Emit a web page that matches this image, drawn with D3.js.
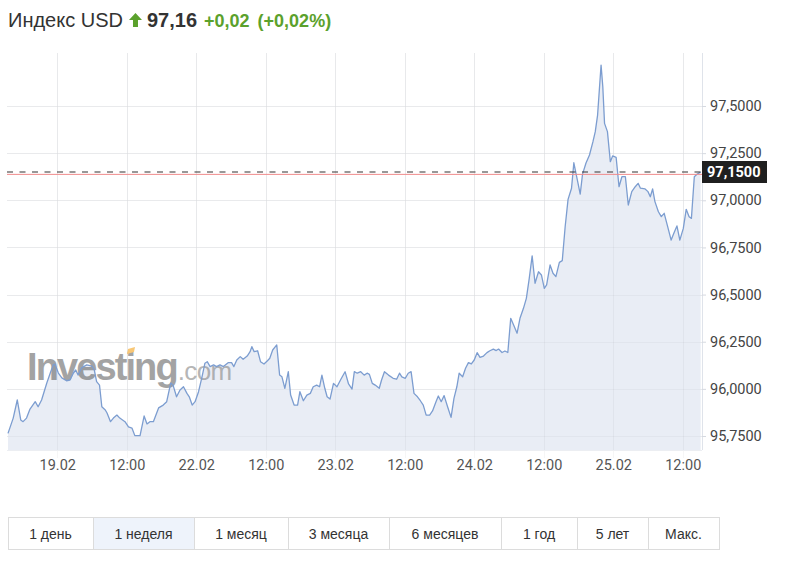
<!DOCTYPE html>
<html><head><meta charset="utf-8">
<script src="https://cdn.jsdelivr.net/npm/d3@7"></script>
<style>
html,body{margin:0;padding:0;background:#fff;}
svg{display:block;}
</style></head>
<body>
<svg id="c" width="791" height="562"></svg>
<script>
// ---------- DATA ----------
const instrument = "Индекс USD";
const lastPriceText = "97,16";
const changeText = "+0,02";
const changePctText = "(+0,02%)";
const currentPrice = 97.15;
const prevClose = 97.14;

// hours from start of window (18.02 ~15:30), trading time only
const hours = [0,0.9,1.6,2.2,2.6,3.2,3.8,4.7,5.2,5.8,6.7,7.3,7.8,8.1,8.7,9.3,10.1,10.7,11.3,11.7,12.1,12.7,13.6,14.5,14.9,15.3,15.8,16.2,16.8,17.1,17.7,18.2,18.8,19.3,20.2,20.8,21.4,21.9,22.8,23.5,24.0,24.5,25.1,26.0,26.8,27.4,28.1,28.5,29.1,29.7,30.3,30.9,31.3,31.8,32.3,32.9,33.5,34.0,34.4,34.9,35.5,36.0,36.6,37.2,38.0,38.6,39.0,39.5,40.1,40.6,41.3,41.8,42.1,42.5,43.1,43.6,44.2,44.8,45.2,45.7,46.4,46.9,47.3,47.8,48.4,48.8,49.4,50.0,50.4,51.0,51.6,52.2,52.7,53.3,53.8,54.2,54.7,55.1,55.6,56.2,56.8,57.5,58.2,58.8,59.4,59.8,60.3,60.9,61.5,62.0,62.4,62.9,63.4,64.1,64.5,65.0,65.7,66.5,67.1,67.6,68.0,68.6,69.1,69.6,70.1,70.7,71.2,71.7,72.2,72.8,73.3,73.9,74.3,74.8,75.3,75.9,76.5,77.0,77.5,77.9,78.5,79.0,79.5,80.0,80.5,81.0,81.5,82.1,82.7,83.2,83.8,84.3,84.7,85.3,85.8,86.3,86.8,87.3,87.9,88.4,89.0,89.5,90.0,90.5,91.0,91.6,92.1,92.6,93.0,93.6,94.1,94.6,95.2,95.7,96.2,96.7,97.3,97.7,98.3,98.8,99.2,99.8,100.4,101.0,101.4,101.8,102.1,102.4,102.7,103.0,103.5,104.0,104.4,105.0,105.5,106.0,106.6,107.1,107.7,108.3,108.8,109.2,110.0,110.5,110.9,111.3,111.7,112.3,112.8,113.3,113.9,114.5,115.0,115.5,116.0,116.6,117.1,117.6,118.0,118.5,119.0,119.6];
const values = [95.764,95.845,95.941,95.835,95.826,95.845,95.893,95.932,95.905,95.941,96.031,96.084,96.127,96.132,96.084,96.058,96.043,96.047,96.084,96.100,96.073,96.111,96.127,96.121,96.100,96.038,96.020,95.905,95.888,95.872,95.826,95.845,95.861,95.845,95.826,95.798,95.792,95.752,95.752,95.856,95.814,95.826,95.826,95.899,95.914,95.932,96.031,96.020,95.958,95.994,96.011,95.976,95.958,95.914,95.932,95.985,96.064,96.136,96.144,96.118,96.127,96.118,96.127,96.118,96.139,96.139,96.118,96.153,96.171,96.157,96.174,96.197,96.224,96.197,96.202,96.144,96.132,96.149,96.162,96.206,96.233,96.073,96.064,96.003,96.091,95.967,95.914,95.914,95.985,95.937,95.967,95.976,96.011,96.020,96.011,96.073,96.003,95.958,95.946,96.029,96.011,96.052,96.091,96.026,95.999,96.091,96.083,96.091,96.073,96.083,96.077,96.029,96.020,96.003,96.047,96.091,96.073,96.056,96.051,96.083,96.064,96.056,96.083,96.091,95.976,95.958,95.937,95.914,95.861,95.861,95.883,95.932,95.962,95.932,95.964,95.905,95.849,95.950,96.011,96.083,96.064,96.109,96.139,96.132,96.153,96.192,96.167,96.174,96.192,96.202,96.211,96.203,96.211,96.193,96.201,96.193,96.374,96.339,96.295,96.374,96.427,96.480,96.586,96.705,96.560,96.621,96.604,96.533,96.551,96.657,96.613,96.595,96.671,96.680,96.860,97.005,97.064,97.199,97.108,97.033,97.139,97.198,97.240,97.311,97.364,97.452,97.585,97.717,97.602,97.408,97.364,97.205,97.235,97.228,97.072,97.125,97.125,96.975,97.046,97.072,97.090,97.064,97.060,97.046,97.019,97.060,96.993,96.939,96.913,96.931,96.860,96.789,96.828,96.864,96.789,96.851,96.952,96.913,96.904,97.125,97.139,97.150];

const yTicks = [95.75, 96.0, 96.25, 96.5, 96.75, 97.0, 97.25, 97.5];
const xTickHours = [8.5, 20.5, 32.5, 44.5, 56.5, 68.5, 80.5, 92.5, 104.5, 116.5];
const xTickLabels = ["19.02", "12:00", "22.02", "12:00", "23.02", "12:00", "24.02", "12:00", "25.02", "12:00"];
const rangeButtons = ["1 день", "1 неделя", "1 месяц", "3 месяца", "6 месяцев", "1 год", "5 лет", "Макс."];
const activeButton = "1 неделя";

// ---------- LAYOUT ----------
const svg = d3.select("#c");
const plot = {left: 7, right: 702, top: 53, bottom: 450};
const x = d3.scaleLinear().domain([0, 120]).range([8, 703]);
const y = d3.scaleLinear().domain([95.75, 97.5]).range([436, 106]);
const fmt = v => d3.format(".4f")(v).replace(".", ",");
const data = hours.map((h, i) => ({h, v: values[i]}));

// grid
const grid = svg.append("g");
grid.selectAll("line.h").data(yTicks).join("line")
  .attr("x1", plot.left).attr("x2", plot.right)
  .attr("y1", d => Math.round(y(d)) + 0.5).attr("y2", d => Math.round(y(d)) + 0.5)
  .attr("stroke", "#f1f2f4").attr("stroke-width", 1);
grid.selectAll("line.v").data(xTickHours).join("line")
  .attr("x1", d => Math.round(x(d)) + 0.5).attr("x2", d => Math.round(x(d)) + 0.5)
  .attr("y1", plot.top).attr("y2", plot.bottom)
  .attr("stroke", "#f1f2f4").attr("stroke-width", 1);

// area + line
const area = d3.area().x(d => x(d.h)).y0(plot.bottom).y1(d => y(d.v));
const line = d3.line().x(d => x(d.h)).y(d => y(d.v));
svg.append("path").datum(data).attr("d", area).attr("fill", "#e9edf5");

// grid over area (subtle)
const grid2 = svg.append("g");
grid2.selectAll("line").data(xTickHours).join("line")
  .attr("x1", d => Math.round(x(d)) + 0.5).attr("x2", d => Math.round(x(d)) + 0.5)
  .attr("y1", plot.top).attr("y2", plot.bottom + 8)
  .attr("stroke", "rgba(0,0,0,0.035)").attr("stroke-width", 1);
grid2.selectAll("line.h2").data(yTicks).join("line")
  .attr("x1", plot.left).attr("x2", plot.right)
  .attr("y1", d => Math.round(y(d)) + 0.5).attr("y2", d => Math.round(y(d)) + 0.5)
  .attr("stroke", "rgba(0,0,0,0.03)").attr("stroke-width", 1);

// watermark
const wm = svg.append("g").attr("opacity", 0.62);
const wm1 = wm.append("text").attr("x", 27).attr("y", 380)
  .attr("font-family", "Liberation Sans, Arial, sans-serif").attr("font-weight", "bold")
  .attr("font-size", 38).attr("letter-spacing", -1.9).attr("fill", "#6b6b6b").text("Investing");
const wmEnd = 27 + wm1.node().getComputedTextLength();
wm.append("text").attr("x", wmEnd + 1).attr("y", 380)
  .attr("font-family", "Liberation Sans, Arial, sans-serif")
  .attr("font-size", 26).attr("letter-spacing", -0.6).attr("fill", "#8a8a8a").text(".com");
wm.append("path").attr("d", "M128,349 L135,347 L134,352 L127,354 Z").attr("fill", "#f5a623");

svg.append("path").datum(data).attr("d", line)
  .attr("fill", "none").attr("stroke", "#7c9dd0").attr("stroke-width", 1.3)
  .attr("stroke-linejoin", "round");

// prev close & current price lines
svg.append("line").attr("x1", plot.left).attr("x2", plot.right)
  .attr("y1", y(prevClose) + 0.5).attr("y2", y(prevClose) + 0.5)
  .attr("stroke", "#f08b8b").attr("stroke-width", 1);
svg.append("line").attr("x1", plot.left).attr("x2", plot.right)
  .attr("y1", y(currentPrice)).attr("y2", y(currentPrice))
  .attr("stroke", "#333").attr("stroke-width", 1.2).attr("stroke-dasharray", "6,6.5");

// axes lines
svg.append("line").attr("x1", plot.right + 0.5).attr("x2", plot.right + 0.5)
  .attr("y1", plot.top).attr("y2", plot.bottom).attr("stroke", "#dfe3ea");
svg.append("line").attr("x1", plot.left).attr("x2", plot.right)
  .attr("y1", plot.bottom + 0.5).attr("y2", plot.bottom + 0.5).attr("stroke", "#eceef2");

// y axis via d3
const yAxis = d3.axisRight(y).tickValues(yTicks).tickFormat(fmt).tickSize(4).tickPadding(4);
const ya = svg.append("g").attr("transform", `translate(${plot.right},0)`).call(yAxis);
ya.select(".domain").remove();
ya.selectAll(".tick line").attr("stroke", "#d5d9e0");
ya.selectAll(".tick text").attr("font-family", "Roboto, sans-serif").attr("font-size", 14.5)
  .attr("fill", "#444");

// x axis via d3
const xAxis = d3.axisBottom(x).tickValues(xTickHours).tickFormat((d, i) => xTickLabels[i]).tickSize(0).tickPadding(10);
const xa = svg.append("g").attr("transform", `translate(0,${plot.bottom})`).call(xAxis);
xa.select(".domain").remove();
xa.selectAll(".tick text").attr("font-family", "Roboto, sans-serif").attr("font-size", 14.5)
  .attr("fill", "#555");

// current price tag
const tag = svg.append("g");
tag.append("rect").attr("x", plot.right).attr("y", y(currentPrice) - 11).attr("width", 65).attr("height", 22)
  .attr("fill", "#1f1f1f");
tag.append("text").attr("x", plot.right + 5).attr("y", y(currentPrice)).attr("dy", "0.36em")
  .attr("font-family", "Roboto, sans-serif").attr("font-weight", "bold").attr("font-size", 14.5)
  .attr("fill", "#fff").text(fmt(currentPrice));

// header
const hdr = svg.append("g");
const t1 = hdr.append("text").attr("x", 8).attr("y", 27)
  .attr("font-family", "Liberation Sans, Arial, sans-serif").attr("font-size", 20).attr("fill", "#333")
  .text(instrument);
let cx = 8 + t1.node().getComputedTextLength() + 6;
hdr.append("path")
  .attr("d", `M${cx},${20} L${cx+6.5},${13} L${cx+13},${20} L${cx+9},${20} L${cx+9},${27} L${cx+4},${27} L${cx+4},${20} Z`)
  .attr("fill", "#5ba12c");
cx += 18;
const t2 = hdr.append("text").attr("x", cx).attr("y", 27)
  .attr("font-family", "Liberation Sans, Arial, sans-serif").attr("font-weight", "bold").attr("font-size", 20)
  .attr("fill", "#333").text(lastPriceText);
cx += t2.node().getComputedTextLength() + 7;
const t3 = hdr.append("text").attr("x", cx).attr("y", 27)
  .attr("font-family", "Liberation Sans, Arial, sans-serif").attr("font-weight", "bold").attr("font-size", 18)
  .attr("fill", "#5ba12c").text(changeText);
cx += t3.node().getComputedTextLength() + 8;
hdr.append("text").attr("x", cx).attr("y", 27)
  .attr("font-family", "Liberation Sans, Arial, sans-serif").attr("font-weight", "bold").attr("font-size", 18)
  .attr("fill", "#5ba12c").text(changePctText);

// range buttons
const edges = [8, 93, 194, 288, 389, 501, 577, 648, 719];
const bTop = 517, bH = 32;
const bg = svg.append("g");
bg.selectAll("rect").data(rangeButtons).join("rect")
  .attr("x", (d, i) => edges[i] + 0.5).attr("y", bTop + 0.5)
  .attr("width", (d, i) => edges[i + 1] - edges[i]).attr("height", bH)
  .attr("fill", d => d === activeButton ? "#eef3fb" : "#fff")
  .attr("stroke", "#dcdcdc").attr("stroke-width", 1);
bg.selectAll("text").data(rangeButtons).join("text")
  .attr("x", (d, i) => (edges[i] + edges[i + 1]) / 2).attr("y", bTop + bH / 2 + 1).attr("dy", "0.35em")
  .attr("text-anchor", "middle")
  .attr("font-family", "Liberation Sans, Arial, sans-serif").attr("font-size", 14).attr("fill", "#333")
  .text(d => d);
</script>
</body></html>
